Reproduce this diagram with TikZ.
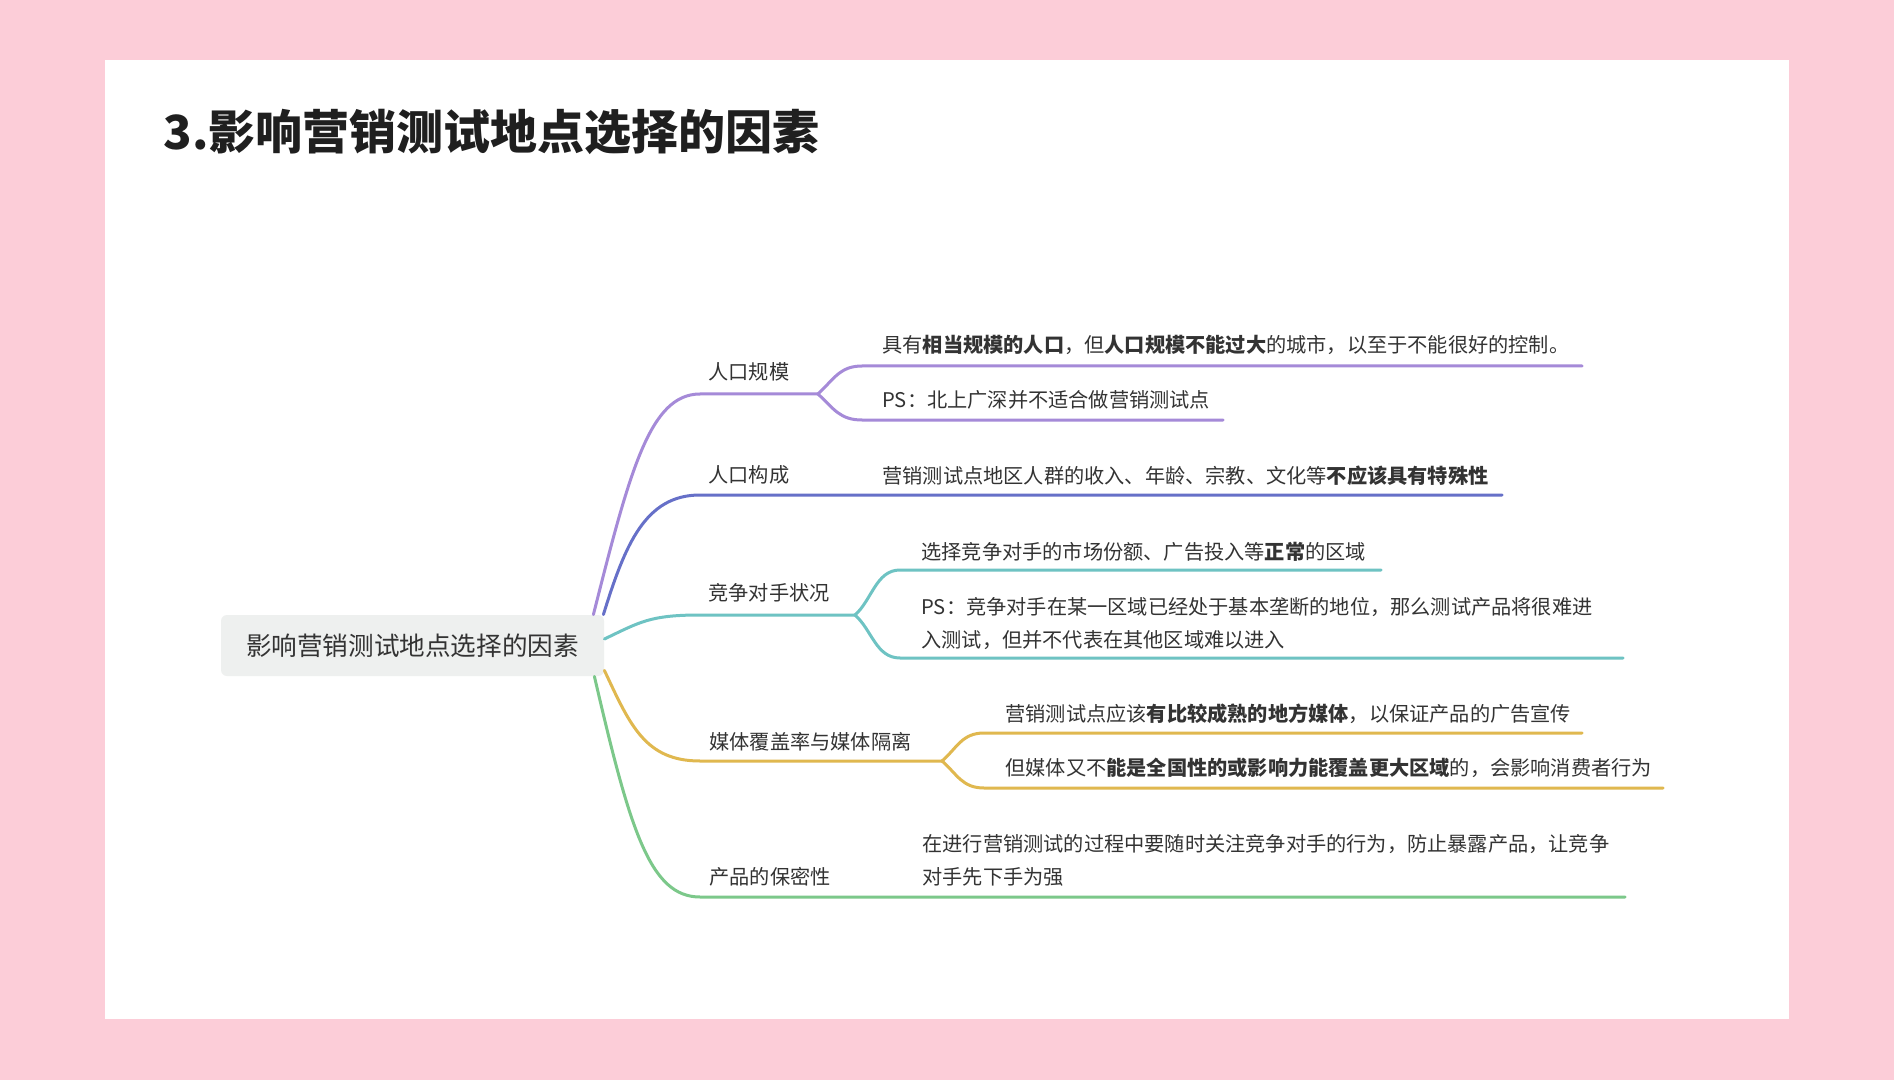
\documentclass[tikz,border=0pt]{standalone}
\usepackage{fontspec}
\setmainfont{Noto Sans CJK SC}
\usetikzlibrary{calc}
\definecolor{bgpink}{HTML}{FCCDD8}
\definecolor{rootgray}{HTML}{EEF0EF}
\definecolor{txt}{HTML}{333333}
\definecolor{cpurple}{HTML}{A58AD8}
\definecolor{cblue}{HTML}{6670C8}
\definecolor{cteal}{HTML}{6EC3C3}
\definecolor{cgold}{HTML}{E0B84F}
\definecolor{cgreen}{HTML}{7CC88A}
\begin{document}
\begin{tikzpicture}[x=0.5pt,y=-0.5pt,
  branch/.style={line width=1.5pt,line cap=round},
  lbl/.style={anchor=west,inner sep=0pt,text=txt,font=\fontsize{10.1pt}{16.5pt}\selectfont},
  leaf/.style={anchor=west,inner sep=0pt,text=txt,align=left,font=\fontsize{10.1pt}{16.5pt}\selectfont},
  rootbox/.style={fill=rootgray,rounded corners=3pt,minimum width=191.5pt,minimum height=30.5pt,inner sep=0pt,text=txt,font=\fontsize{12.8pt}{15pt}\selectfont},
  titlestyle/.style={anchor=west,inner sep=0pt,text=black!88,font=\fontsize{23.5pt}{27pt}\selectfont\bfseries}]
\fill[bgpink] (0,0) rectangle (1894,1080);
\fill[white] (105,60) rectangle (1789,1019);
\useasboundingbox (0,0) rectangle (1894,1080);

\node[titlestyle] (title) at (163,132) {3.影响营销测试地点选择的因素};

\node[rootbox] (root) at (412.5,645.5) {影响营销测试地点选择的因素};

% ---------- branch 1: purple ----------
\node[lbl] (b1) at (708,372) {人口规模};
\node[leaf] (c1a) at (882,345) {具有\textbf{相当规模的人口}，但\textbf{人口规模不能过大}的城市，以至于不能很好的控制。};
\node[leaf] (c1b) at (882,400) {PS：北上广深并不适合做营销测试点};
\coordinate (f1) at (818,394);
\coordinate (e1a) at (1582,366);
\coordinate (e1b) at (1223,420);
\draw[branch,cpurple] ([xshift=-5.5pt]root.north east) .. controls (630,470) and (650,394) .. (700,394) -- (f1);
\draw[branch,cpurple] (f1) .. controls (834,379) and (840,366) .. (862,366) -- (e1a);
\draw[branch,cpurple] (f1) .. controls (834,409) and (840,420) .. (862,420) -- (e1b);

% ---------- branch 2: blue ----------
\node[lbl] (b2) at (708,475) {人口构成};
\node[leaf] (c2) at (882,476) {营销测试点地区人群的收入、年龄、宗教、文化等\textbf{不应该具有特殊性}};
\coordinate (e2) at (1502,495);
\draw[branch,cblue] ([xshift=-0.5pt]root.north east) .. controls (625,545) and (645,495) .. (700,495) -- (e2);

% ---------- branch 3: teal ----------
\node[lbl] (b3) at (708,593) {竞争对手状况};
\node[leaf] (c3a) at (921,552) {选择竞争对手的市场份额、广告投入等\textbf{正常}的区域};
\node[leaf] (c3b) at (921,623.5) {PS：竞争对手在某一区域已经处于基本垄断的地位，那么测试产品将很难进\\入测试，但并不代表在其他区域难以进入};
\coordinate (f3) at (855,615);
\coordinate (e3a) at (1381,570);
\coordinate (e3b) at (1623,658);
\draw[branch,cteal] ([yshift=3.25pt]root.east) .. controls (640,622) and (650,615) .. (700,615) -- (f3);
\draw[branch,cteal] (f3) .. controls (872,600) and (876,570) .. (900,570) -- (e3a);
\draw[branch,cteal] (f3) .. controls (872,630) and (876,658) .. (900,658) -- (e3b);

% ---------- branch 4: gold ----------
\node[lbl] (b4) at (709,742) {媒体覆盖率与媒体隔离};
\node[leaf] (c4a) at (1005,714) {营销测试点应该\textbf{有比较成熟的地方媒体}，以保证产品的广告宣传};
\node[leaf] (c4b) at (1005,768) {但媒体又不\textbf{能是全国性的或影响力能覆盖更大区域}的，会影响消费者行为};
\coordinate (f4) at (942,761);
\coordinate (e4a) at (1582,733);
\coordinate (e4b) at (1663,788);
\draw[branch,cgold] ([yshift=3pt]root.south east) .. controls (630,725) and (645,761) .. (700,761) -- (f4);
\draw[branch,cgold] (f4) .. controls (957,748) and (962,733) .. (984,733) -- (e4a);
\draw[branch,cgold] (f4) .. controls (957,774) and (962,788) .. (984,788) -- (e4b);

% ---------- branch 5: green ----------
\node[lbl] (b5) at (709,877) {产品的保密性};
\node[leaf] (c5) at (922,860) {在进行营销测试的过程中要随时关注竞争对手的行为，防止暴露产品，让竞争\\对手先下手为强};
\coordinate (e5) at (1625,897);
\draw[branch,cgreen] ([xshift=-5pt]root.south east) .. controls (630,830) and (650,897) .. (700,897) -- (e5);
\end{tikzpicture}
\end{document}
